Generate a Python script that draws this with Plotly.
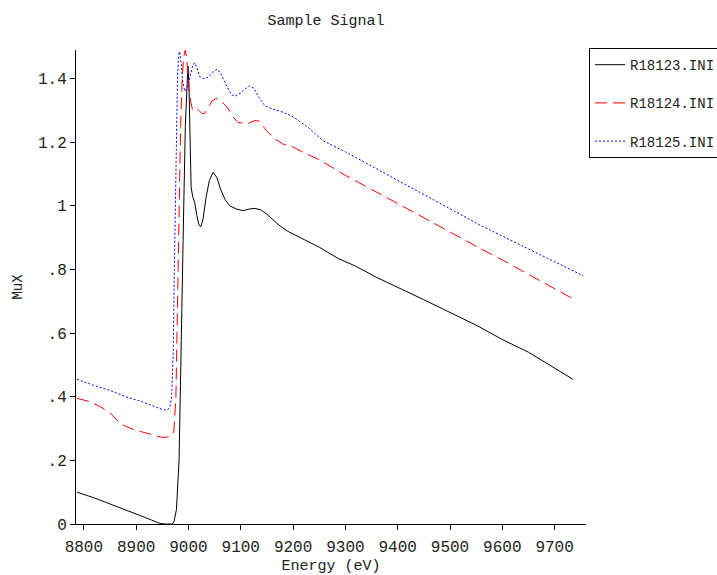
import plotly.graph_objects as go

# ---- data ----
e_black = [8787, 8820, 8850, 8880, 8910, 8930, 8945, 8955, 8968, 8972, 8977, 8982, 8985, 8988,
           8991, 8994, 8997, 8999, 9001, 9003, 9005, 9008, 9012, 9016, 9020, 9024, 9028, 9034,
           9040, 9047, 9054, 9062, 9070, 9079, 9092, 9104, 9116, 9127, 9138, 9149, 9162, 9175,
           9190, 9213, 9250, 9286, 9320, 9360, 9400, 9450, 9500, 9550, 9600, 9650, 9700, 9735]
mu_black = [0.10, 0.082, 0.063, 0.045, 0.025, 0.012, 0.002, 0.0, 0.0, 0.005, 0.045, 0.20, 0.50, 0.75,
            1.00, 1.25, 1.40, 1.44, 1.38, 1.20, 1.06, 1.03, 1.01, 0.97, 0.94, 0.935, 0.96, 1.03,
            1.08, 1.105, 1.09, 1.05, 1.02, 1.00, 0.99, 0.985, 0.99, 0.992, 0.988, 0.975, 0.955, 0.937,
            0.92, 0.90, 0.87, 0.835, 0.81, 0.775, 0.745, 0.705, 0.665, 0.625, 0.58, 0.54, 0.49, 0.455]

e_red = [8787, 8810, 8830, 8850, 8870, 8890, 8910, 8930, 8950, 8966, 8972, 8976, 8979, 8982, 8985,
         8988, 8991, 8994, 8997, 9000, 9004, 9008, 9014, 9020, 9026, 9031, 9038, 9045, 9053, 9060,
         9068, 9074, 9085, 9095, 9105, 9116, 9126, 9135, 9143, 9150, 9166, 9180, 9200, 9217, 9250,
         9300, 9350, 9400, 9450, 9500, 9557, 9600, 9650, 9700, 9735]
mu_red = [0.395, 0.385, 0.37, 0.35, 0.315, 0.30, 0.29, 0.28, 0.272, 0.275, 0.29, 0.40, 0.70, 1.00, 1.25,
          1.40, 1.47, 1.49, 1.46, 1.38, 1.33, 1.30, 1.305, 1.30, 1.29, 1.29, 1.31, 1.33, 1.337, 1.335,
          1.32, 1.31, 1.28, 1.262, 1.26, 1.26, 1.268, 1.267, 1.25, 1.235, 1.21, 1.195, 1.185, 1.17, 1.145,
          1.096, 1.052, 1.007, 0.962, 0.918, 0.867, 0.83, 0.785, 0.74, 0.708]

e_blue = [8787, 8820, 8850, 8880, 8910, 8935, 8950, 8958, 8964, 8968, 8971, 8973, 8975, 8977, 8979,
          8981, 8983, 8986, 8989, 8993, 8997, 9002, 9008, 9012, 9016, 9022, 9030, 9038, 9046, 9055,
          9062, 9072, 9082, 9089, 9100, 9110, 9117, 9125, 9135, 9146, 9160, 9180, 9200, 9213, 9230,
          9257, 9300, 9350, 9400, 9450, 9500, 9557, 9600, 9650, 9700, 9755]
mu_blue = [0.455, 0.435, 0.42, 0.40, 0.385, 0.37, 0.36, 0.358, 0.365, 0.40, 0.55, 0.80, 1.05, 1.25, 1.40,
           1.47, 1.485, 1.45, 1.39, 1.36, 1.37, 1.40, 1.44, 1.45, 1.435, 1.405, 1.40, 1.405, 1.42, 1.43,
           1.415, 1.38, 1.35, 1.345, 1.355, 1.37, 1.377, 1.37, 1.34, 1.315, 1.305, 1.295, 1.28, 1.265, 1.245,
           1.205, 1.17, 1.125, 1.08, 1.035, 0.99, 0.94, 0.905, 0.865, 0.825, 0.78]

names = ["R18123.INI", "R18124.INI", "R18125.INI"]
x_ticks = [8800, 8900, 9000, 9100, 9200, 9300, 9400, 9500, 9600, 9700]
y_ticks = [0, 0.2, 0.4, 0.6, 0.8, 1.0, 1.2, 1.4]
y_ticktext = ["0", ".2", ".4", ".6", ".8", "1", "1.2", "1.4"]

FONT = "Liberation Mono"
TXT = "#222222"

fig = go.Figure()
fig.add_trace(go.Scatter(x=e_black, y=mu_black, mode="lines", name=names[0], legendgroup="a",
                         line=dict(color="#000000", width=1, dash="solid")))
fig.add_trace(go.Scatter(x=e_red, y=mu_red, mode="lines", name=names[1], legendgroup="b",
                         line=dict(color="#ff0000", width=1, dash="12px,6px")))
fig.add_trace(go.Scatter(x=e_blue, y=mu_blue, mode="lines", name=names[2], legendgroup="c",
                         line=dict(color="#0000ff", width=1, dash="2px,2px")))

fig.update_layout(
    width=717, height=575,
    margin=dict(l=76, r=131, t=50, b=51, autoexpand=False),
    paper_bgcolor="white", plot_bgcolor="white",
    font=dict(family=FONT, size=16, color=TXT),
    title=dict(text="Sample Signal", x=326 / 717, xanchor="center", xref="container",
               y=1 - 20 / 575, yref="container", yanchor="middle",
               font=dict(family=FONT, size=15, color=TXT)),
    showlegend=True,
    legend=dict(x=1.006, y=1.004, xanchor="left", yanchor="top",
                bordercolor="#000000", borderwidth=1, bgcolor="white",
                font=dict(family=FONT, size=14, color=TXT),
                tracegroupgap=17, itemwidth=30),
)
fig.update_xaxes(range=[8785, 9760], tickvals=x_ticks, ticks="outside", ticklen=5,
                 tickcolor="#000", showline=True, linecolor="#000", linewidth=1,
                 showgrid=False, zeroline=False, ticklabelstandoff=3, automargin=False,
                 tickfont=dict(family=FONT, size=16, color=TXT),
                 title=dict(text="Energy (eV)", standoff=7, font=dict(family=FONT, size=15, color=TXT)))
fig.update_yaxes(range=[0, 1.49], tickvals=y_ticks, ticktext=y_ticktext, ticks="outside", ticklen=5,
                 tickcolor="#000", showline=True, linecolor="#000", linewidth=1,
                 showgrid=False, zeroline=False, automargin=False,
                 tickfont=dict(family=FONT, size=16, color=TXT),
                 title=dict(text="MuX", standoff=12, font=dict(family=FONT, size=14, color=TXT)))

fig.write_html("out.html")
